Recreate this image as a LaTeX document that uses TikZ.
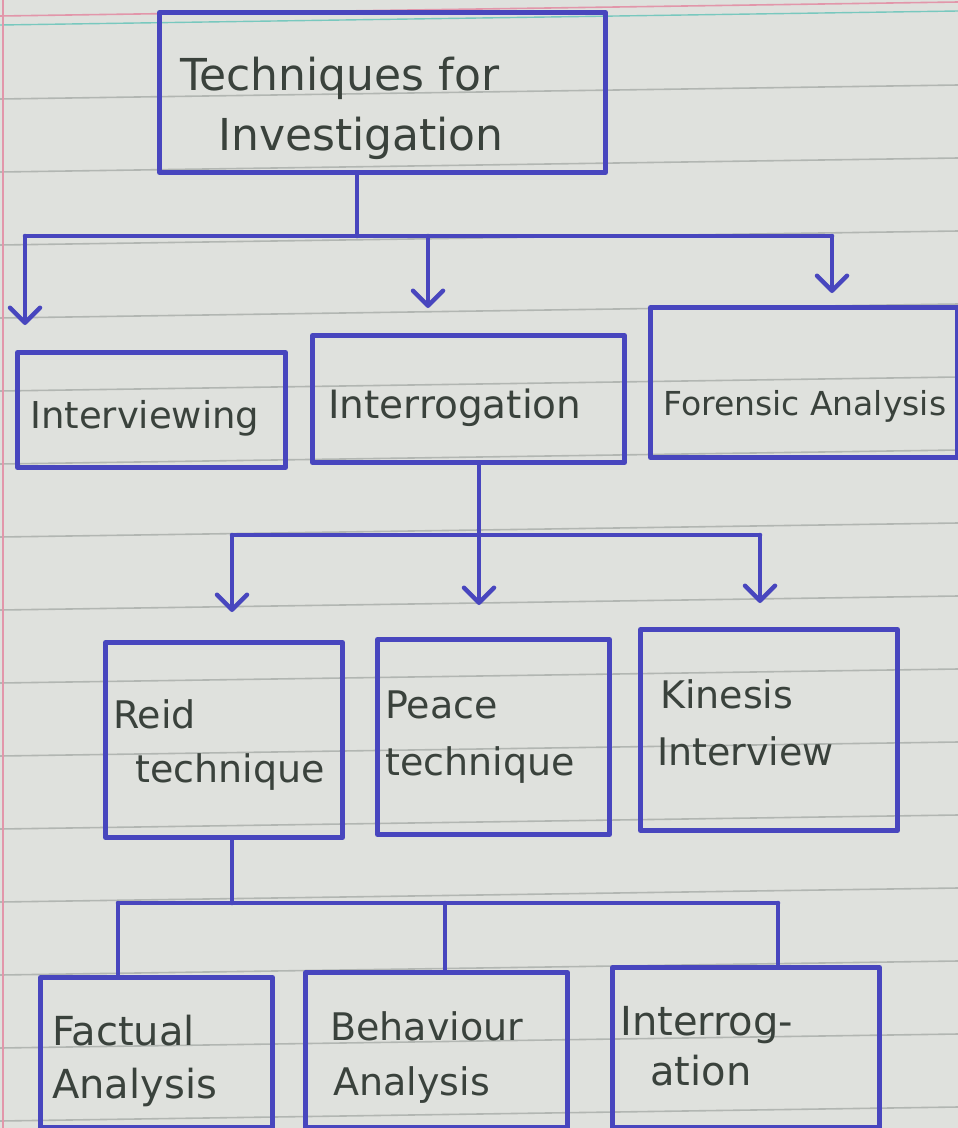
\documentclass[tikz,border=0pt]{standalone}
\usepackage{fontspec}
\setmainfont{DejaVu Sans}
\usetikzlibrary{arrows.meta,calc}
\definecolor{ink}{RGB}{72,70,190}
\definecolor{pen}{RGB}{58,66,60}
\definecolor{paper}{RGB}{223,225,221}
\definecolor{ruleline}{RGB}{178,182,178}
\definecolor{marginred}{RGB}{226,150,170}
\definecolor{topteal}{RGB}{120,200,190}
\begin{document}
\begin{tikzpicture}[x=1pt,y=-1pt,
  box/.style={draw=ink,line width=5pt,inner sep=0pt,anchor=north west,line join=round},
  conn/.style={draw=ink,line width=4.5pt,line cap=round},
  arr/.style={conn,-{Straight Barb[length=15pt,width=30pt,line cap=round,line join=round]}},
  txt/.style={text=pen,inner sep=0pt,anchor=base west},
  fs/.style={font=\fontsize{#1pt}{#1pt}\selectfont}]
% paper
\useasboundingbox (0,0) rectangle (958,1128);
\fill[paper] (0,0) rectangle (958,1128);
\foreach \k in {1,...,15}{
  \draw[ruleline,line width=1.6pt] (0,{26+73*\k}) -- (958,{12+73*\k});
}
\draw[marginred,line width=1.6pt] (0,16) -- (958,2);
\draw[topteal,line width=1.4pt] (0,25) -- (958,11);
\draw[marginred,line width=1.4pt] (3,0) -- (3,1128);

% boxes
\node[box,minimum width=446pt,minimum height=160pt] (top) at (157,10) {};
\node[box,minimum width=268pt,minimum height=115pt] (iv) at (15,350) {};
\node[box,minimum width=312pt,minimum height=127pt] (ig) at (310,333) {};
\node[box,minimum width=307pt,minimum height=150pt] (fo) at (648,305) {};
\node[box,minimum width=237pt,minimum height=195pt] (reid) at (103,640) {};
\node[box,minimum width=232pt,minimum height=195pt] (peace) at (375,637) {};
\node[box,minimum width=257pt,minimum height=201pt] (kin) at (638,627) {};
\node[box,minimum width=232pt,minimum height=150pt] (fa) at (38,975) {};
\node[box,minimum width=262pt,minimum height=155pt] (ba) at (303,970) {};
\node[box,minimum width=267pt,minimum height=160pt] (ia) at (610,965) {};

% texts
\node[txt,fs=44] (t1) at (180,90) {Techniques for};
\node[txt,fs=44] (t2) at (218,150) {Investigation};
\node[txt,fs=37] (t3) at (30,428) {Interviewing};
\node[txt,fs=39] (t4) at (328,418) {Interrogation};
\node[txt,fs=33] (t5) at (663,415) {Forensic Analysis};
\node[txt,fs=38] (t6) at (113,728) {Reid};
\node[txt,fs=38] (t7) at (135,782) {technique};
\node[txt,fs=38] (t8) at (385,718) {Peace};
\node[txt,fs=38] (t9) at (385,775) {technique};
\node[txt,fs=38] (t10) at (660,708) {Kinesis};
\node[txt,fs=38] (t11) at (657,765) {Interview};
\node[txt,fs=40] (t12) at (52,1045) {Factual};
\node[txt,fs=40] (t13) at (52,1098) {Analysis};
\node[txt,fs=38] (t14) at (330,1040) {Behaviour};
\node[txt,fs=38] (t15) at (333,1095) {Analysis};
\node[txt,fs=40] (t16) at (620,1035) {Interrog-};
\node[txt,fs=40] (t17) at (650,1085) {ation};

% level 1 connectors
\coordinate (j1) at (357,236);
\coordinate (b1L) at (25,236);
\coordinate (b1M) at (428,236);
\coordinate (b1R) at (832,236);
\draw[conn] (top.south -| j1) -- (j1);
\draw[conn] (b1L) -- (b1R);
\draw[arr,shorten >=25pt] (b1L) -- (b1L |- iv.north);
\draw[arr,shorten >=25pt] (b1M) -- (b1M |- ig.north);
\draw[arr,shorten >=12pt] (b1R) -- (b1R |- fo.north);

% level 2 connectors
\coordinate (j2) at (479,535);
\coordinate (b2L) at (232,535);
\coordinate (b2R) at (760,535);
\draw[conn] (ig.south -| j2) -- (j2);
\draw[conn] (b2L) -- (b2R);
\draw[arr,shorten >=28pt] (b2L) -- (b2L |- reid.north);
\draw[arr,shorten >=32pt] (j2) -- (j2 |- peace.north);
\draw[arr,shorten >=24pt] (b2R) -- (b2R |- kin.north);

% level 3 connectors
\coordinate (j3) at (232,903);
\coordinate (b3L) at (118,903);
\coordinate (b3M) at (445,903);
\coordinate (b3R) at (778,903);
\draw[conn] (reid.south -| j3) -- (j3);
\draw[conn] (b3L) -- (b3R);
\draw[conn] (b3L) -- (b3L |- fa.north);
\draw[conn] (b3M) -- (b3M |- ba.north);
\draw[conn] (b3R) -- (b3R |- ia.north);
\end{tikzpicture}
\end{document}
